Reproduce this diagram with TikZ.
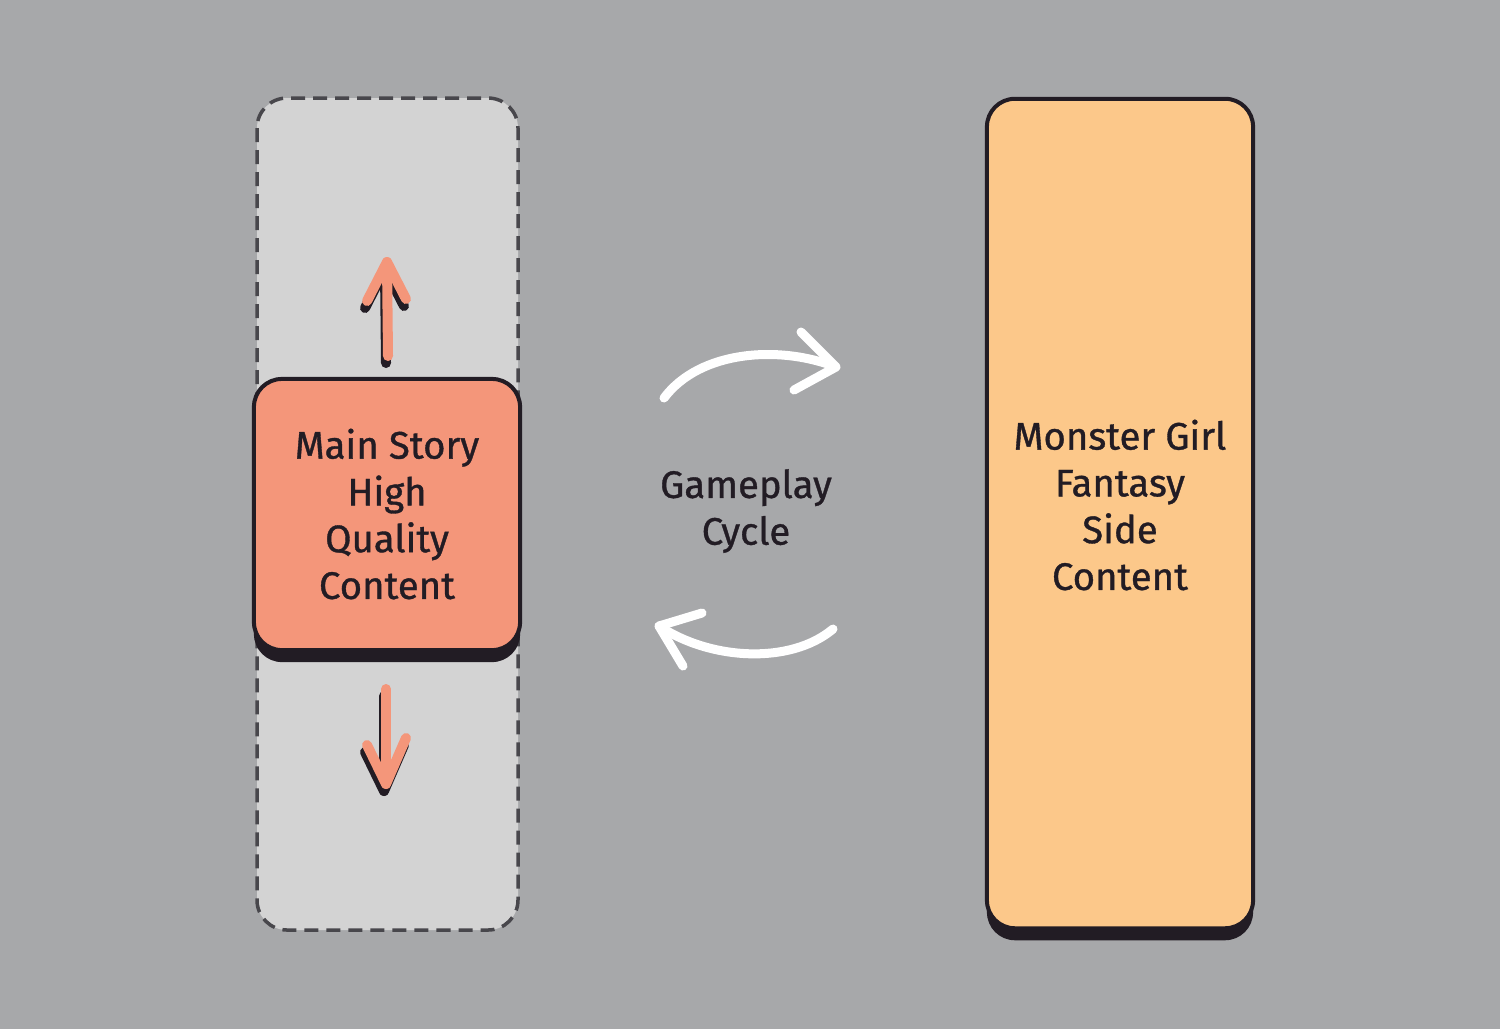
\documentclass[tikz,border=0pt]{standalone}
\usepackage{fontspec}
\setmainfont{Fira Sans}[UprightFeatures={FakeBold=0.9}]
\usetikzlibrary{shadows}
\definecolor{bggrey}{HTML}{A7A8AA}
\definecolor{lanegrey}{HTML}{D3D3D3}
\definecolor{dashgrey}{HTML}{48474C}
\definecolor{ink}{HTML}{221C24}
\definecolor{salmon}{HTML}{F4967A}
\definecolor{peach}{HTML}{FCC88A}
\begin{document}
\begin{tikzpicture}[x=0.01cm,y=-0.01cm]
    \tikzstyle{lane}=[draw=dashgrey,fill=lanegrey,line width=0.035cm,dash pattern=on 0.14cm off 0.08cm,rounded corners=0.3cm]
    \tikzstyle{card}=[draw=ink,line width=0.04cm,rounded corners=0.28cm,minimum width=2.66cm,inner sep=0pt,
        drop shadow={shadow xshift=0cm,shadow yshift=-0.12cm,fill=ink,opacity=1}]
    \tikzstyle{caption}=[align=center,font=\fontsize{10.9}{13.3}\selectfont,text=ink]
    \tikzstyle{move}=[line width=0.1cm,line cap=round,line join=round]
    \tikzstyle{cycle}=[draw=white,line width=0.09cm,line cap=round,line join=round]

    \fill[bggrey] (0,0) rectangle (1500,1029);
    \draw[lane] (257,98) rectangle (518,930);

    % up and down moves of the main story
    \coordinate (up-tail) at (388,356);
    \coordinate (up-tip) at (387,262);
    \coordinate (up-l) at (367,301);
    \coordinate (up-r) at (406,299);
    \coordinate (dn-tail) at (386,689);
    \coordinate (dn-tip) at (386,784);
    \coordinate (dn-l) at (367,745);
    \coordinate (dn-r) at (406,738);
    \foreach \c/\dx/\dy in {ink/-2/-7,salmon/0/0}{
        \draw[move,draw=\c,transform canvas={xshift=\dx*0.01cm,yshift=\dy*0.01cm}] (up-tail) -- (up-tip);
        \draw[move,draw=\c,transform canvas={xshift=\dx*0.01cm,yshift=\dy*0.01cm}] (up-l) -- (up-tip) -- (up-r);
        \draw[move,draw=\c,transform canvas={xshift=\dx*0.01cm,yshift=\dy*0.01cm}] (dn-tail) -- (dn-tip);
        \draw[move,draw=\c,transform canvas={xshift=\dx*0.01cm,yshift=\dy*0.01cm}] (dn-l) -- (dn-tip) -- (dn-r);
    }

    \node[card,fill=salmon,minimum height=2.71cm] (main) at (387,514.5) {};
    \node[caption] (main-text) at (387,514) {Main Story\\High\\Quality\\Content};

    \node[card,fill=peach,minimum height=8.29cm] (side) at (1120,513.5) {};
    \node[caption] (side-text) at (1120,505) {Monster Girl\\Fantasy\\Side\\Content};

    % gameplay cycle
    \node[caption] (cycle) at (746,511) {Gameplay\\Cycle};
    \coordinate (top-start) at (664,398);
    \coordinate (top-end) at (836,367);
    \coordinate (top-a) at (801,332);
    \coordinate (top-b) at (794,390);
    \coordinate (bot-start) at (833,629);
    \coordinate (bot-end) at (659,626);
    \coordinate (bot-a) at (702,613);
    \coordinate (bot-b) at (683,666);
    \draw[cycle] (top-start) .. controls (700,350) and (780,345) .. (top-end);
    \draw[cycle] (top-a) -- (top-end) -- (top-b);
    \draw[cycle] (bot-start) .. controls (790,665) and (710,660) .. (bot-end);
    \draw[cycle] (bot-a) -- (bot-end) -- (bot-b);
\end{tikzpicture}
\end{document}
